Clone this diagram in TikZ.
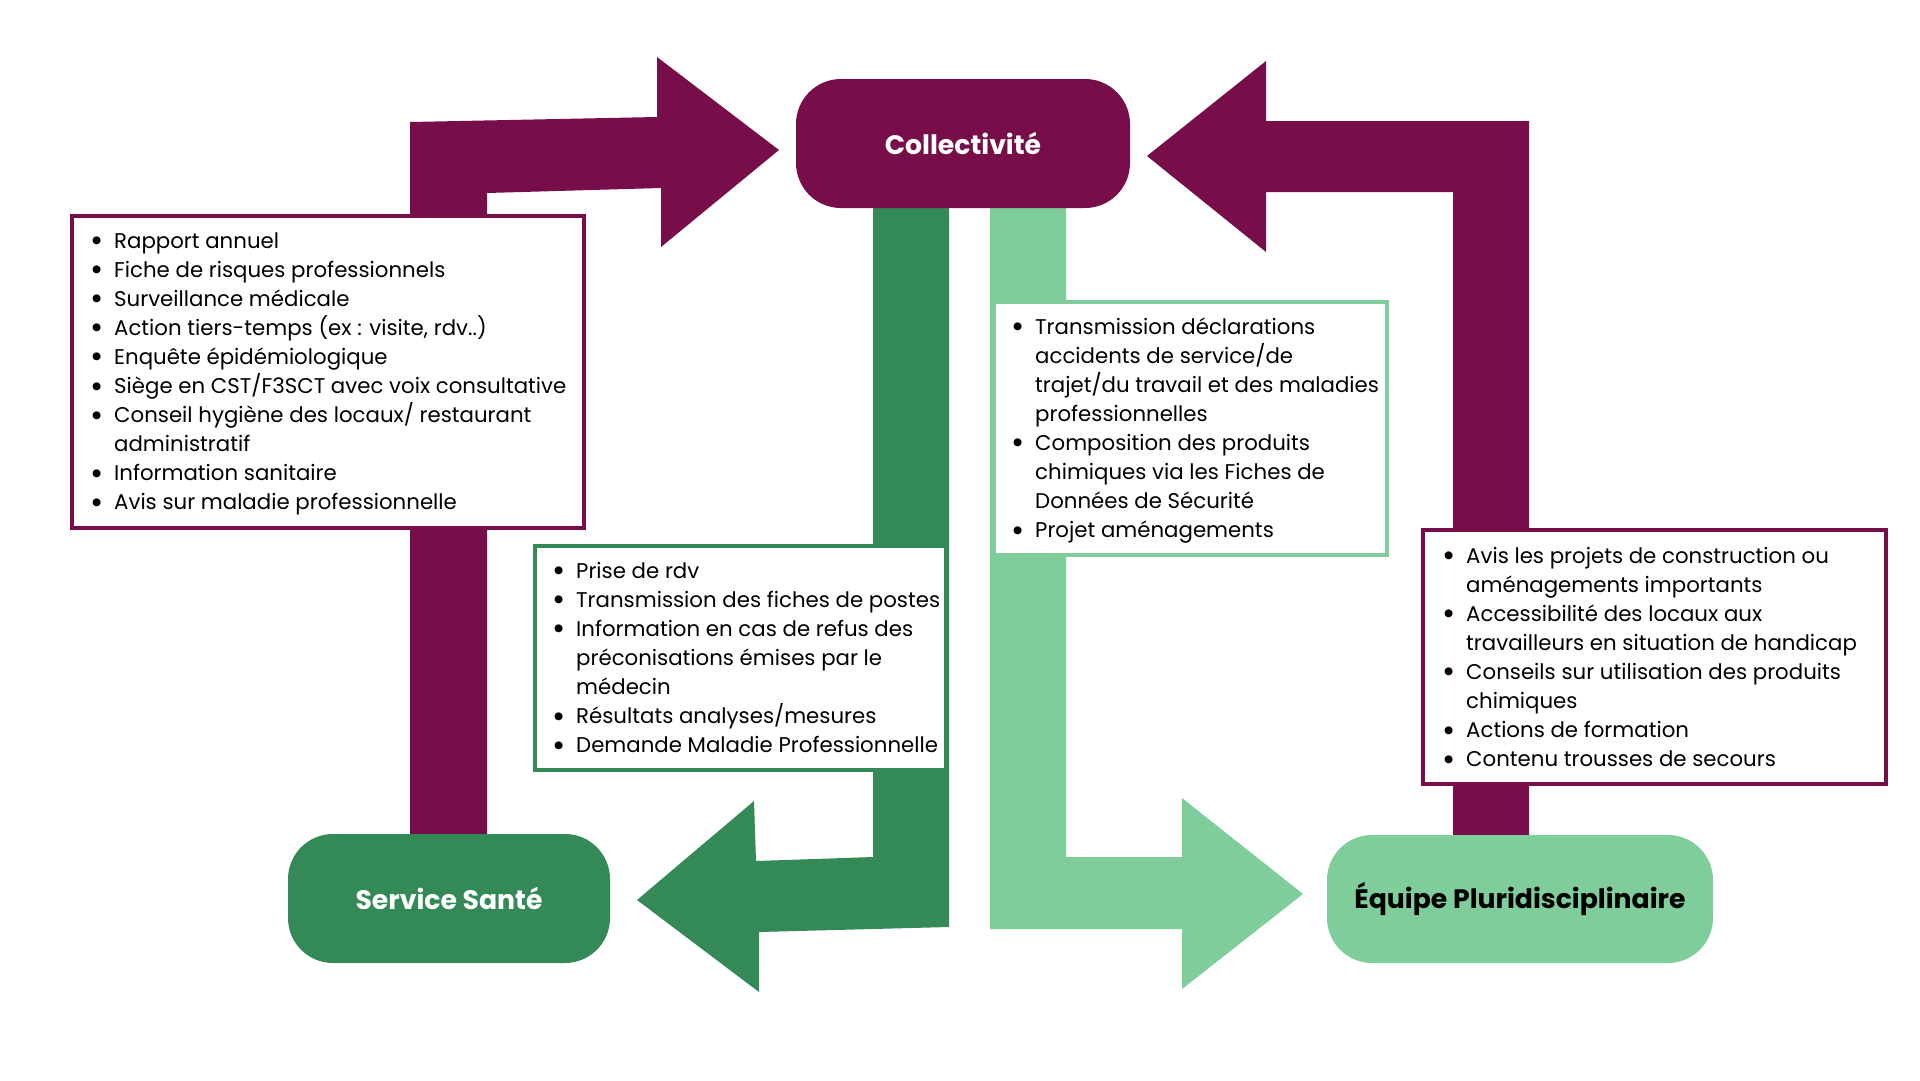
\documentclass[tikz,border=0pt]{standalone}
\usepackage{fontspec}
\setmainfont{Poppins}
\definecolor{plum}{HTML}{770E4A}
\definecolor{dgreen}{HTML}{348A57}
\definecolor{lgreen}{HTML}{7FCD9B}
\newcommand{\bul}{\makebox[22pt][l]{\hspace{-2pt}\raisebox{-3.5pt}{\fontsize{32}{32}\selectfont\textbullet}}}
\newcommand{\ind}{\hspace*{22pt}}
\tikzset{
  rbox/.style={rounded corners=45pt, inner sep=0pt, font=\fontsize{26.7}{30}\selectfont\bfseries},
  tbox/.style={draw, line width=4pt, fill=white, inner sep=0pt, outer sep=0pt, anchor=north west},
  ttext/.style={anchor=base west, inner sep=0pt, font=\fontsize{21.3}{29.1}\selectfont},
}
\begin{document}
\begin{tikzpicture}[x=1pt,y=-1pt]
\useasboundingbox (0,0) rectangle (1920,1080);
\fill[white] (0,0) rectangle (1920,1080);
% arrows
\fill[plum] (410,850) -- (410,122) -- (657,117) -- (657,57) -- (779,150) -- (661,247) -- (661,188) -- (487,193) -- (487,850) -- cycle;
\fill[plum] (1529,850) -- (1529,121) -- (1266,121) -- (1266,61) -- (1147,156) -- (1266,252) -- (1266,192) -- (1453,192) -- (1453,850) -- cycle;
\fill[dgreen] (873,190) -- (873,857) -- (756,861) -- (754,801) -- (637,900) -- (759,992) -- (759,932) -- (949,927) -- (949,190) -- cycle;
\fill[lgreen] (990,190) -- (990,929) -- (1182,929) -- (1182,989) -- (1303,894) -- (1182,798) -- (1182,857) -- (1066,857) -- (1066,190) -- cycle;
% rounded boxes
\node[rbox, fill=plum, text=white, minimum width=334pt, minimum height=129pt] (coll) at (963,143.5) {Collectivité};
\node[rbox, fill=dgreen, text=white, minimum width=322pt, minimum height=129pt] (sante) at (449,898.5) {Service Santé};
\node[rbox, fill=lgreen, text=black, minimum width=386pt, minimum height=128pt] (equipe) at (1520,899) {Équipe Pluridisciplinaire};
% text boxes
\node[tbox, draw=plum, minimum width=512pt, minimum height=312pt] (b1) at (72,216) {};
\node[tbox, draw=dgreen, minimum width=411pt, minimum height=224pt] (b2) at (535,546) {};
\node[tbox, draw=lgreen, minimum width=393pt, minimum height=253pt] (b3) at (994,302) {};
\node[tbox, draw=plum, minimum width=463pt, minimum height=254pt] (b4) at (1423,530) {};
\node[ttext] (t1) at (92,248) {\parbox[t]{490pt}{\raggedright
\bul Rapport annuel\\
\bul Fiche de risques professionnels\\
\bul Surveillance médicale\\
\bul Action tiers-temps (ex : visite, rdv..)\\
\bul Enquête épidémiologique\\
\bul Siège en CST/F3SCT avec voix consultative\\
\bul Conseil hygiène des locaux/ restaurant\\
\ind administratif\\
\bul Information sanitaire\\
\bul Avis sur maladie professionnelle}};
\node[ttext] (t2) at (554,578) {\parbox[t]{390pt}{\raggedright
\bul Prise de rdv\\
\bul Transmission des fiches de postes\\
\bul Information en cas de refus des\\
\ind préconisations émises par le\\
\ind médecin\\
\bul Résultats analyses/mesures\\
\bul Demande Maladie Professionnelle}};
\node[ttext] (t3) at (1013,334) {\parbox[t]{375pt}{\raggedright
\bul Transmission déclarations\\
\ind accidents de service/de\\
\ind trajet/du travail et des maladies\\
\ind professionnelles\\
\bul Composition des produits\\
\ind chimiques via les Fiches de\\
\ind Données de Sécurité\\
\bul Projet aménagements}};
\node[ttext] (t4) at (1444,563) {\parbox[t]{440pt}{\raggedright
\bul Avis les projets de construction ou\\
\ind aménagements importants\\
\bul Accessibilité des locaux aux\\
\ind travailleurs en situation de handicap\\
\bul Conseils sur utilisation des produits\\
\ind chimiques\\
\bul Actions de formation\\
\bul Contenu trousses de secours}};
\end{tikzpicture}
\end{document}
